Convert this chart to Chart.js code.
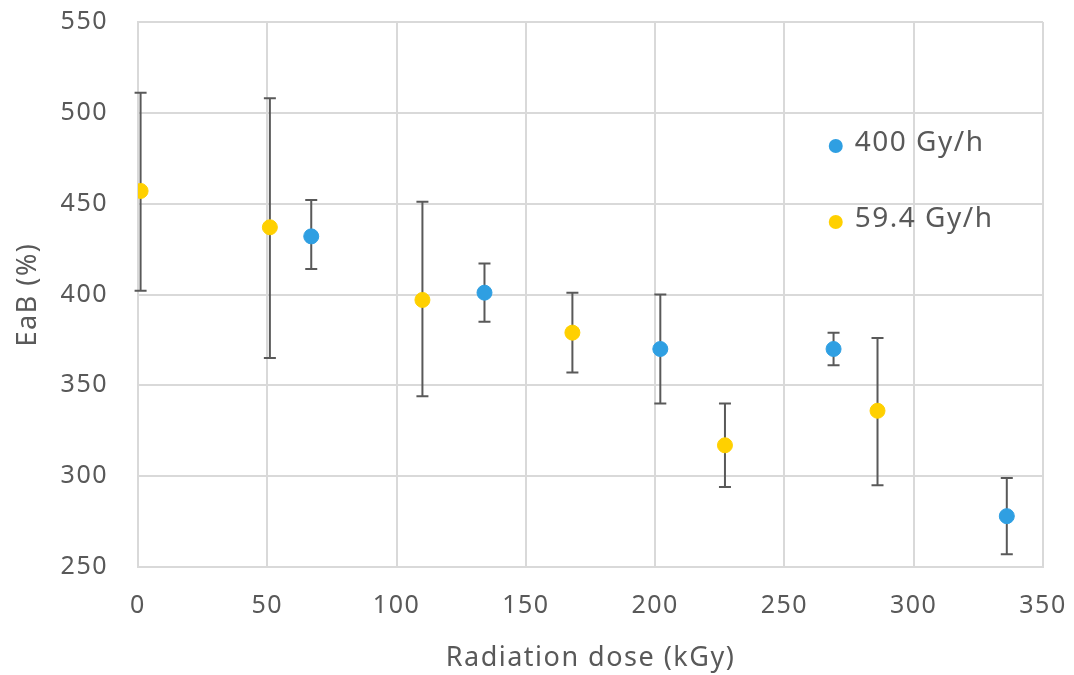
<!DOCTYPE html>
<html>
<head>
<meta charset="utf-8">
<script src="https://cdn.jsdelivr.net/npm/chart.js@4.4.0/dist/chart.umd.min.js"></script>
<style>
  html, body { margin: 0; padding: 0; background: #fff; }
  #wrap { width: 1074px; height: 675px; }
</style>
</head>
<body>
<div id="wrap"><canvas id="chart"></canvas></div>
<script>
// Series: dose (kGy), EaB (%), error bar low / high
const seriesNames = ['400 Gy/h', '59.4 Gy/h'];

const doseHigh = [67, 134, 202, 269, 336];
const eabHigh  = [432, 401, 370, 370, 278];
const lowHigh  = [414, 385, 340, 361, 257];
const topHigh  = [452, 417, 400, 379, 299];

const doseLow = [1, 51, 110, 168, 227, 286];
const eabLow  = [457, 437, 397, 379, 317, 336];
const lowLow  = [402, 365, 344, 357, 294, 295];
const topLow  = [511, 508, 451, 401, 340, 376];

const xTicks = [0, 50, 100, 150, 200, 250, 300, 350];
const yTicks = [250, 300, 350, 400, 450, 500, 550];

const textColor = '#595959';
const fontFamily = "'Noto Sans', 'Open Sans', sans-serif";

function toPoints(xs, ys, lo, hi) {
  return xs.map((x, i) => ({ x: x, y: ys[i], lo: lo[i], hi: hi[i] }));
}

// Wider letter spacing like the original
const spacing = {
  id: 'spacing',
  beforeLayout(chart) { chart.ctx.letterSpacing = '1.5px'; },
  beforeDraw(chart) { chart.ctx.letterSpacing = '1.5px'; }
};

// Draw vertical error bars with caps under the points
const errorBars = {
  id: 'errorBars',
  beforeDatasetsDraw(chart) {
    const ctx = chart.ctx;
    const xs = chart.scales.x, ys = chart.scales.y;
    ctx.save();
    ctx.strokeStyle = '#595959';
    ctx.lineWidth = 2;
    chart.data.datasets.forEach(ds => {
      ds.data.forEach(p => {
        const px = xs.getPixelForValue(p.x);
        const y1 = ys.getPixelForValue(p.lo);
        const y2 = ys.getPixelForValue(p.hi);
        ctx.beginPath();
        ctx.moveTo(px, y1); ctx.lineTo(px, y2);
        ctx.moveTo(px - 6, y1); ctx.lineTo(px + 6, y1);
        ctx.moveTo(px - 6, y2); ctx.lineTo(px + 6, y2);
        ctx.stroke();
      });
    });
    ctx.restore();
  }
};

// Legend sitting inside the plot area
const innerLegend = {
  id: 'innerLegend',
  afterDraw(chart) {
    const ctx = chart.ctx;
    const a = chart.chartArea;
    const x = a.left + (a.right - a.left) * 0.771;
    const rows = [a.top + 124, a.top + 200];
    ctx.save();
    ctx.font = '28px ' + fontFamily;
    ctx.textBaseline = 'middle';
    chart.data.datasets.forEach((ds, i) => {
      ctx.fillStyle = ds.backgroundColor;
      ctx.beginPath();
      ctx.arc(x, rows[i], 7, 0, Math.PI * 2);
      ctx.fill();
      ctx.fillStyle = textColor;
      ctx.fillText(ds.label, x + 19, rows[i] - 3);
    });
    ctx.restore();
  }
};

new Chart(document.getElementById('chart'), {
  type: 'scatter',
  data: {
    datasets: [
      {
        label: seriesNames[0],
        data: toPoints(doseHigh, eabHigh, lowHigh, topHigh),
        backgroundColor: '#2F9FE2',
        borderColor: '#2F9FE2',
        pointRadius: 7.5,
        pointHoverRadius: 7.5
      },
      {
        label: seriesNames[1],
        data: toPoints(doseLow, eabLow, lowLow, topLow),
        backgroundColor: '#FFD000',
        borderColor: '#FFD000',
        pointRadius: 7.5,
        pointHoverRadius: 7.5
      }
    ]
  },
  options: {
    responsive: true,
    maintainAspectRatio: false,
    animation: false,
    layout: { padding: { left: 0, right: 31, top: 22, bottom: 0 } },
    plugins: {
      legend: { display: false },
      tooltip: { enabled: false }
    },
    scales: {
      x: {
        type: 'linear',
        min: 0, max: 350,
        afterBuildTicks: s => { s.ticks = xTicks.map(v => ({ value: v })); },
        afterFit: s => { s.height = 108; s.paddingLeft = 0; s.paddingRight = 0; },
        grid: { color: '#D9D9D9', lineWidth: 2, drawTicks: false },
        border: { color: '#D9D9D9', width: 2 },
        ticks: { color: textColor, font: { family: fontFamily, size: 25 }, padding: 24 },
        title: {
          display: true,
          text: 'Radiation dose (kGy)',
          color: textColor,
          font: { family: fontFamily, size: 27 },
          padding: { top: 10, bottom: 0 }
        }
      },
      y: {
        type: 'linear',
        min: 250, max: 550,
        afterBuildTicks: s => { s.ticks = yTicks.map(v => ({ value: v })); },
        afterFit: s => { s.width = 138; s.paddingTop = 0; s.paddingBottom = 0; },
        grid: { color: '#D9D9D9', lineWidth: 2, drawTicks: false },
        border: { color: '#D9D9D9', width: 2 },
        ticks: { color: textColor, font: { family: fontFamily, size: 25 }, padding: 30 },
        title: {
          display: true,
          text: 'EaB (%)',
          color: textColor,
          font: { family: fontFamily, size: 27 },
          padding: { top: 12, bottom: 0 }
        }
      }
    }
  },
  plugins: [spacing, errorBars, innerLegend]
});
</script>
</body>
</html>
